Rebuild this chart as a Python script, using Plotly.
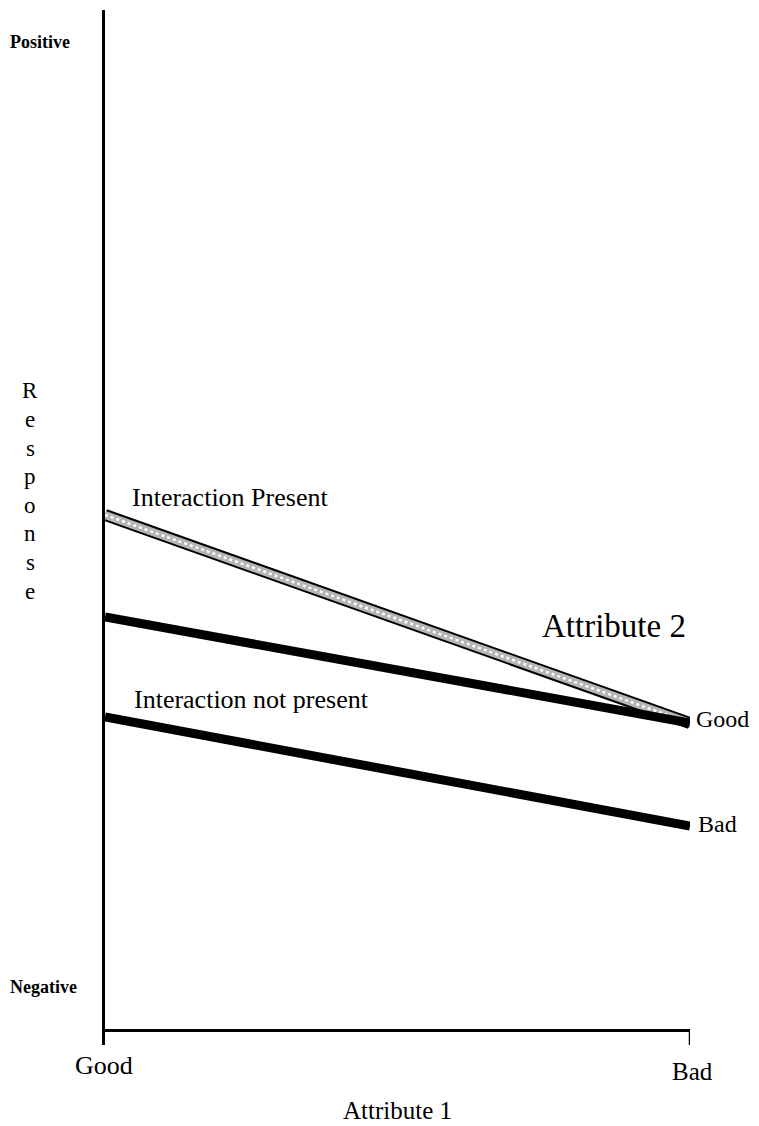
import plotly.graph_objects as go

# Attribute 1 levels (x) and response values (y, arbitrary units: 0 = x-axis, ~99 = "Positive")
attr1_levels = ["Good", "Bad"]
attr1_pos = [0, 1]
good_line = [41.3, 30.7]          # Attribute 2 = Good, interaction not present
bad_line = [31.3, 20.4]           # Attribute 2 = Bad
interaction_line = [51.5, 30.7]   # Attribute 2 = Good, interaction present
y_labels = ["Negative", "Positive"]
y_label_vals = [4.3, 98.8]

OFF = 8  # browser body margin
W, H = 759 - OFF, 1126 - OFF
L, R, T, B = 105 - OFF, 69, 10 - OFF, 81
PW = W - L - R
PH = H - T - B
YMIN, YMAX = -1.5, 102.0

def px_x(px):
    return (px - OFF - L) / PW

def px_y(py):
    return (H - B - (py - OFF)) / PH

serif = "Liberation Serif"

fig = go.Figure()

# interaction-present band: black outline + stippled light interior
fig.add_trace(go.Scatter(x=attr1_pos, y=interaction_line, mode="lines",
                         line=dict(color="black", width=12), hoverinfo="skip", showlegend=False))
fig.add_trace(go.Scatter(x=attr1_pos, y=interaction_line, mode="lines",
                         line=dict(color="#b5b5b5", width=8), hoverinfo="skip", showlegend=False))
fig.add_trace(go.Scatter(x=attr1_pos, y=interaction_line, mode="lines",
                         line=dict(color="white", width=2.5, dash="dot"), hoverinfo="skip", showlegend=False))

# thick lines
fig.add_trace(go.Scatter(x=attr1_pos, y=good_line, mode="lines",
                         line=dict(color="black", width=9), hoverinfo="skip", showlegend=False))
fig.add_trace(go.Scatter(x=attr1_pos, y=bad_line, mode="lines",
                         line=dict(color="black", width=9), hoverinfo="skip", showlegend=False))

# tick at "Bad"
fig.add_trace(go.Scatter(x=[1, 1], y=[0, -1.7], mode="lines",
                         line=dict(color="black", width=2.5), hoverinfo="skip", showlegend=False))

fig.update_layout(
    width=W, height=H,
    margin=dict(l=L, r=R, t=T, b=B),
    paper_bgcolor="white", plot_bgcolor="white",
    xaxis=dict(range=[0, 1], showgrid=False, zeroline=False, showline=False,
               showticklabels=False, ticks=""),
    yaxis=dict(range=[YMIN, YMAX], showgrid=False, zeroline=True, zerolinecolor="black",
               zerolinewidth=2.5, showline=True, linecolor="black", linewidth=3,
               showticklabels=False, ticks=""),
)

def txt(text, x, y, size, anchor="left", bold=False, family=serif):
    t = f"<b>{text}</b>" if bold else text
    return dict(text=t, x=px_x(x), y=px_y(y), xref="paper", yref="paper",
                xanchor=anchor, yanchor="middle", showarrow=False,
                font=dict(family=family, size=size, color="black"))

ann = []
# y-axis end labels
ref_y = {"Positive": 42, "Negative": 987}
for t in y_labels:
    ann.append(txt(t, 8, ref_y[t], 18, bold=True))
# Response vertical letters
for i, ch in enumerate("Response"):
    ann.append(txt(ch, 30, 391 + i * 28.6, 23, anchor="center"))
# x tick labels
ann.append(txt(attr1_levels[0], 104, 1065, 26, anchor="center"))
ann.append(txt(attr1_levels[1], 692, 1071, 25, anchor="center"))
ann.append(txt("Attribute 1", 397, 1110, 25, anchor="center"))
# line labels
ann.append(txt("Interaction Present", 130, 497, 26))
ann.append(txt("Interaction not present", 132, 699, 26))
ann.append(txt("Attribute 2", 540, 626, 33))
ann.append(txt("Good", 694, 719, 24))
ann.append(txt("Bad", 696, 824, 24))
fig.update_layout(annotations=ann)

fig.write_html("out.html")
